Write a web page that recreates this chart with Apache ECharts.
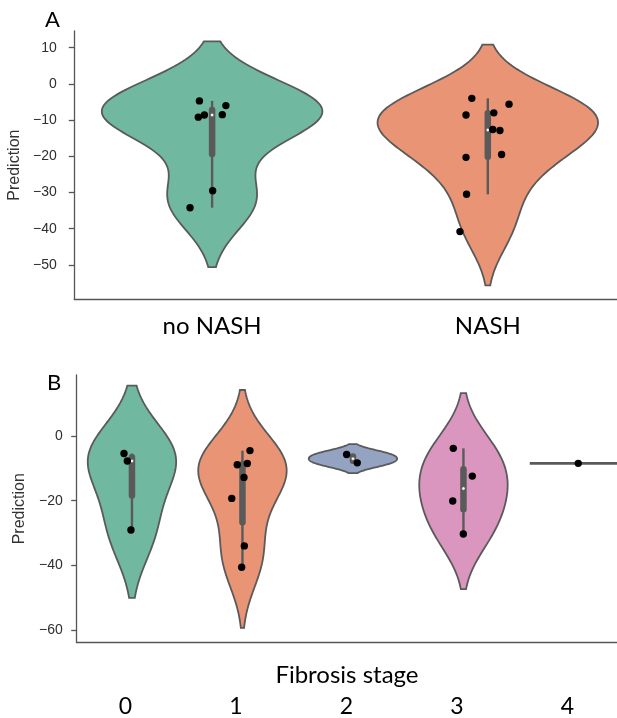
<!DOCTYPE html>
<html><head><meta charset="utf-8">
<script src="https://cdn.jsdelivr.net/npm/echarts@6/dist/echarts.min.js"></script>
<style>html,body{margin:0;padding:0;background:#fff}#c{width:617px;height:718px}</style>
</head><body><div id="c"></div>
<script>
// ---------- data ----------
const catsA = ['no NASH', 'NASH'];
const noNash = [-4.7, -6.0, -8.6, -9.2, -8.5, -29.5, -34.2];
const nash = [-4.0, -5.6, -8.6, -8.0, -12.6, -12.9, -20.3, -19.5, -30.5, -40.8];
const jitterNoNash = [-0.046, 0.050, -0.028, -0.050, 0.037, 0.002, -0.080];
const jitterNash = [-0.058, 0.077, -0.079, 0.022, 0.018, 0.044, -0.079, 0.050, -0.077, -0.101];

const catsB = ['0', '1', '2', '3', '4'];
const stage0 = [-5.4, -7.7, -29.1];
const stage1 = [-4.5, -8.9, -8.5, -12.8, -19.3, -34.0, -40.6];
const stage2 = [-5.7, -8.3];
const stage3 = [-3.8, -12.4, -20.1, -30.3];
const stage4 = [-8.45];
const jitter0 = [-0.072, -0.042, -0.009];
const jitter1 = [0.068, -0.047, 0.044, 0.014, -0.097, 0.017, -0.007];
const jitter2 = [-0.057, 0.039];
const jitter3 = [-0.092, 0.080, -0.097, -0.001];
const jitter4 = [0.039];

const yTicksA = [10, 0, -10, -20, -30, -40, -50];
const yTicksB = [0, -20, -40, -60];
const yRangeA = [-59.5, 14.6];
const yRangeB = [-63.9, 18.9];

// ---------- styles ----------
const colorsA = ['#70b8a0', '#e99575'];
const colorsB = ['#70b8a0', '#e99575', '#95a3c3', '#db96c0', '#a9c77f'];
const GRAY = '#5a5a5a';
const AXIS = '#555555';

const groupsA = [noNash, nash];
const jittersA = [jitterNoNash, jitterNash];
const groupsB = [stage0, stage1, stage2, stage3, stage4];
const jittersB = [jitter0, jitter1, jitter2, jitter3, jitter4];

// ---------- stats (seaborn-like violin) ----------
function quantile(sorted, q) {
  const pos = (sorted.length - 1) * q, lo = Math.floor(pos), hi = Math.ceil(pos);
  return sorted[lo] + (sorted[hi] - sorted[lo]) * (pos - lo);
}
function kde(data) {
  const n = data.length;
  const mean = data.reduce((a, b) => a + b, 0) / n;
  const sd = Math.sqrt(data.reduce((a, b) => a + (b - mean) * (b - mean), 0) / (n - 1));
  const bw = sd * Math.pow(n, -0.2);
  const lo = Math.min(...data) - 2 * bw, hi = Math.max(...data) + 2 * bw;
  const ys = [], ds = [];
  const G = 100;
  for (let i = 0; i < G; i++) {
    const y = lo + (hi - lo) * i / (G - 1);
    let d = 0;
    for (const x of data) { const z = (y - x) / bw; d += Math.exp(-0.5 * z * z); }
    ys.push(y); ds.push(d);
  }
  const m = Math.max(...ds);
  return { ys, ds: ds.map(d => d / m) };
}

function violinRender(groups, colors) {
  return function (params, api) {
    const ci = api.value(0);
    const g = groups[ci];
    const band = api.size([1, 0])[0];
    const hw = 0.4 * band;
    const cx = api.coord([ci, 0])[0];
    if (g.length === 1) {
      const y = api.coord([ci, g[0]])[1];
      return { type: 'line', shape: { x1: cx - hw, y1: y, x2: cx + hw, y2: y },
               style: { stroke: GRAY, lineWidth: 2.6 } };
    }
    const k = kde(g);
    const pts = [];
    for (let i = 0; i < k.ys.length; i++) {
      const y = api.coord([ci, k.ys[i]])[1];
      pts.push([cx + k.ds[i] * hw, y]);
    }
    for (let i = k.ys.length - 1; i >= 0; i--) {
      const y = api.coord([ci, k.ys[i]])[1];
      pts.push([cx - k.ds[i] * hw, y]);
    }
    const s = g.slice().sort((a, b) => a - b);
    const q25 = quantile(s, 0.25), q50 = quantile(s, 0.5), q75 = quantile(s, 0.75);
    const iqr = q75 - q25;
    const h1 = Math.min(...s.filter(v => v >= q25 - 1.5 * iqr));
    const h2 = Math.max(...s.filter(v => v <= q75 + 1.5 * iqr));
    const Y = v => api.coord([ci, v])[1];
    return {
      type: 'group',
      children: [
        { type: 'polygon', shape: { points: pts },
          style: { fill: colors[ci], stroke: GRAY, lineWidth: 1.8 } },
        { type: 'line', shape: { x1: cx, y1: Y(h1), x2: cx, y2: Y(h2) },
          style: { stroke: GRAY, lineWidth: 2.4 } },
        { type: 'line', shape: { x1: cx, y1: Y(q25), x2: cx, y2: Y(q75) },
          style: { stroke: GRAY, lineWidth: 6.5, lineCap: 'round' } },
        { type: 'circle', shape: { cx: cx, cy: Y(q50), r: 1.7 },
          style: { fill: '#ffffff', stroke: GRAY, lineWidth: 0.6 } }
      ]
    };
  };
}

function pointRender(params, api) {
  const ci = api.value(0), v = api.value(1), j = api.value(2);
  const band = api.size([1, 0])[0];
  const p = api.coord([ci, v]);
  return { type: 'circle', shape: { cx: p[0] + j * band, cy: p[1], r: 3.7 },
           style: { fill: '#000000' } };
}

function pointData(groups, jitters) {
  const out = [];
  groups.forEach((g, ci) => g.forEach((v, k) => out.push([ci, v, jitters[ci][k]])));
  return out;
}

const minus = v => String(v).replace('-', '\u2212');
const tickLabel = { fontFamily: 'Liberation Sans', fontSize: 14, color: '#2e2e2e' };

const chart = echarts.init(document.getElementById('c'), null, { renderer: 'canvas' });
chart.setOption({
  animation: false,
  backgroundColor: '#ffffff',
  grid: [
    { left: 74.25, top: 31, width: 551.4, height: 268.3, outerBoundsMode: 'none', containLabel: false },
    { left: 76.7, top: 375, width: 552.5, height: 267.5, outerBoundsMode: 'none', containLabel: false }
  ],
  xAxis: [
    { type: 'category', gridIndex: 0, data: catsA, boundaryGap: true,
      axisLine: { onZero: false, lineStyle: { color: AXIS, width: 1.3 } },
      axisTick: { alignWithLabel: true, length: 5.5, lineStyle: { color: AXIS, width: 1.3 } },
      axisLabel: { margin: 15, fontFamily: 'Lato', fontSize: 24, color: '#000000' },
      splitLine: { show: false } },
    { type: 'category', gridIndex: 1, data: catsB, boundaryGap: true,
      name: 'Fibrosis stage', nameLocation: 'middle', nameGap: 21, nameMoveOverlap: false,
      nameTextStyle: { fontFamily: 'Lato', fontSize: 24, color: '#000000', padding: [0, 12, 0, 0] },
      axisLine: { onZero: false, lineStyle: { color: AXIS, width: 1.3 } },
      axisTick: { alignWithLabel: true, length: 5.5, lineStyle: { color: AXIS, width: 1.3 } },
      axisLabel: { margin: 53, formatter: v => '{a|' + v + '}',
        rich: { a: { fontFamily: 'Lato', fontSize: 23, color: '#000000', padding: [0, 13, 0, 0] } } },
      splitLine: { show: false } }
  ],
  yAxis: [
    { type: 'value', gridIndex: 0, min: yRangeA[0], max: yRangeA[1],
      name: 'Prediction', nameLocation: 'middle', nameGap: 47,
      nameTextStyle: { fontFamily: 'Liberation Sans', fontSize: 16, color: '#333333' },
      axisLine: { show: true, onZero: false, lineStyle: { color: AXIS, width: 1.3 } },
      axisTick: { show: true, length: 5.5, customValues: yTicksA, lineStyle: { color: AXIS, width: 1.3 } },
      axisLabel: Object.assign({ margin: 17.5, customValues: yTicksA, formatter: minus }, tickLabel),
      splitLine: { show: false } },
    { type: 'value', gridIndex: 1, min: yRangeB[0], max: yRangeB[1],
      name: 'Prediction', nameLocation: 'middle', nameGap: 46,
      nameTextStyle: { fontFamily: 'Liberation Sans', fontSize: 16, color: '#333333' },
      axisLine: { show: true, onZero: false, lineStyle: { color: AXIS, width: 1.3 } },
      axisTick: { show: true, length: 5.5, customValues: yTicksB, lineStyle: { color: AXIS, width: 1.3 } },
      axisLabel: Object.assign({ margin: 14, customValues: yTicksB, formatter: minus }, tickLabel),
      splitLine: { show: false } }
  ],
  series: [
    { type: 'custom', xAxisIndex: 0, yAxisIndex: 0, clip: false,
      renderItem: violinRender(groupsA, colorsA), data: catsA.map((c, i) => [i, 0]) },
    { type: 'custom', xAxisIndex: 0, yAxisIndex: 0, clip: false,
      renderItem: pointRender, data: pointData(groupsA, jittersA) },
    { type: 'custom', xAxisIndex: 1, yAxisIndex: 1, clip: false,
      renderItem: violinRender(groupsB, colorsB), data: catsB.map((c, i) => [i, 0]) },
    { type: 'custom', xAxisIndex: 1, yAxisIndex: 1, clip: false,
      renderItem: pointRender, data: pointData(groupsB, jittersB) }
  ],
  graphic: [
    { type: 'text', left: 45, top: 9, style: { text: 'A', fontFamily: 'Lato', fontSize: 22, fill: '#000000' } },
    { type: 'text', left: 47, top: 372, style: { text: 'B', fontFamily: 'Lato', fontSize: 22, fill: '#000000' } }
  ]
});
</script>
</body></html>
